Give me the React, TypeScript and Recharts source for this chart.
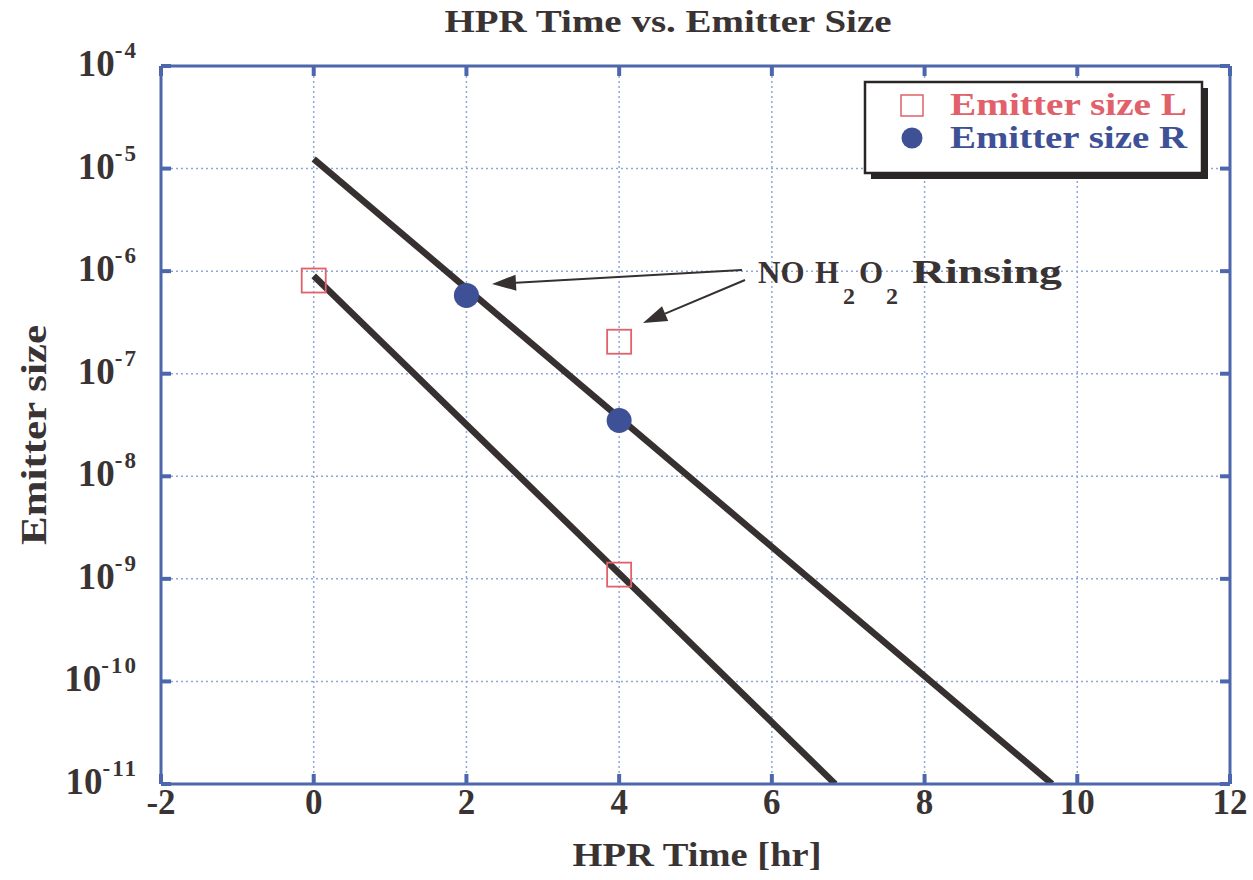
import React from 'react';
import { ComposedChart, Line, Scatter, XAxis, YAxis, CartesianGrid } from 'recharts';

const xTicks = [-2, 0, 2, 4, 6, 8, 10, 12];
const yTicks = [1e-11, 1e-10, 1e-9, 1e-8, 1e-7, 1e-6, 1e-5, 1e-4];

const emitterL = [
  { x: 0, y: 8.1e-7 },
  { x: 4, y: 2.05e-7 },
  { x: 4, y: 1.1e-9 },
];
const emitterR = [
  { x: 2, y: 5.8e-7 },
  { x: 4, y: 3.5e-8 },
];
const fitR = [
  { x: 0, y: 1.24e-5 },
  { x: 9.67, y: 1e-11 },
];
const fitL = [
  { x: 0, y: 9e-7 },
  { x: 6.83, y: 1e-11 },
];

const FONT = 'Liberation Serif, Times New Roman, Times, serif';
const TEXT = '#3a3333';
const AXIS = '#4d67ad';
const GRID = '#8ea6da';
const RED = '#e2606a';
const BLUE = '#3e5196';
const LINE = '#363030';
const TICK_LEN = 10;

const YTick = (props: any) => {
  const { x, y, payload } = props;
  const e = Math.round(Math.log10(payload.value));
  return (
    <text x={x - TICK_LEN - 23} y={y + 10} textAnchor="end" style={{ fontFamily: FONT, fontWeight: 'bold' }} fill={TEXT} fontSize={37}>
      <tspan>10</tspan>
      <tspan dy={-18} fontSize={23} letterSpacing={2}>{`-${Math.abs(e)}`}</tspan>
    </text>
  );
};

const XTick = (props: any) => {
  const { x, y, payload } = props;
  return (
    <text x={x} y={y + TICK_LEN + 30} textAnchor="middle" style={{ fontFamily: FONT, fontWeight: 'bold' }} fill={TEXT} fontSize={35}>
      {payload.value}
    </text>
  );
};

const NoTick = () => <g />;

const SquareShape = (props: any) => {
  const { cx, cy } = props;
  return <rect x={cx - 12} y={cy - 12} width={24} height={24} fill="none" stroke={RED} strokeWidth={1.8} />;
};
const CircleShape = (props: any) => {
  const { cx, cy } = props;
  return <circle cx={cx} cy={cy} r={12.5} fill={BLUE} />;
};

function arrowHead(x0: number, y0: number, tx: number, ty: number, len = 24, half = 8) {
  const dx = tx - x0;
  const dy = ty - y0;
  const d = Math.hypot(dx, dy);
  const ux = dx / d;
  const uy = dy / d;
  const bx = tx - ux * len;
  const by = ty - uy * len;
  const px = -uy * half;
  const py = ux * half;
  return {
    points: `${tx},${ty} ${bx + px},${by + py} ${bx - px},${by - py}`,
    bx,
    by,
  };
}

export default function App() {
  const a1 = arrowHead(742, 270, 492, 284);
  const a2 = arrowHead(745, 280, 643, 323);
  const tickLineStyle = { stroke: AXIS, strokeWidth: 4 };
  const axisLineStyle = { stroke: AXIS, strokeWidth: 3 };
  const txt = { fontFamily: FONT, fontWeight: 'bold' as const };
  return (
    <div style={{ position: 'absolute', left: 0, top: 0, width: 1253, height: 880, background: '#fff' }}>
      <ComposedChart width={1253} height={880} margin={{ top: 65, right: 22, bottom: 0, left: 0 }}>
        <CartesianGrid stroke={GRID} strokeDasharray="2 3" strokeWidth={1.5} />
        <XAxis
          dataKey="x"
          type="number"
          domain={[-2, 12]}
          ticks={xTicks}
          allowDataOverflow
          height={96}
          tickSize={-TICK_LEN}
          tickMargin={0}
          axisLine={axisLineStyle}
          tickLine={tickLineStyle}
          tick={<XTick />}
          interval={0}
        />
        <XAxis
          xAxisId="top"
          orientation="top"
          dataKey="x"
          type="number"
          domain={[-2, 12]}
          ticks={xTicks}
          allowDataOverflow
          height={1}
          tickSize={-TICK_LEN}
          tickMargin={0}
          axisLine={axisLineStyle}
          tickLine={tickLineStyle}
          tick={<NoTick />}
          interval={0}
        />
        <YAxis
          dataKey="y"
          type="number"
          scale="log"
          domain={[1e-11, 1e-4]}
          ticks={yTicks}
          allowDataOverflow
          width={161}
          tickSize={-TICK_LEN}
          tickMargin={0}
          axisLine={axisLineStyle}
          tickLine={tickLineStyle}
          tick={<YTick />}
          interval={0}
        />
        <YAxis
          yAxisId="right"
          orientation="right"
          dataKey="y"
          type="number"
          scale="log"
          domain={[1e-11, 1e-4]}
          ticks={yTicks}
          allowDataOverflow
          width={1}
          tickSize={-TICK_LEN}
          tickMargin={0}
          axisLine={axisLineStyle}
          tickLine={tickLineStyle}
          tick={<NoTick />}
          interval={0}
        />
        <Scatter name="Emitter size L" data={emitterL} dataKey="y" shape={<SquareShape />} isAnimationActive={false} />
        <Scatter name="Emitter size R" data={emitterR} dataKey="y" shape={<CircleShape />} isAnimationActive={false} />
        <Line data={fitR} dataKey="y" stroke={LINE} strokeWidth={6.5} dot={false} activeDot={false} isAnimationActive={false} />
        <Line data={fitL} dataKey="y" stroke={LINE} strokeWidth={6.5} dot={false} activeDot={false} isAnimationActive={false} />
      </ComposedChart>
      <svg
        width={1253}
        height={880}
        style={{ position: 'absolute', left: 0, top: 0, pointerEvents: 'none', ...txt }}
      >
        <text x={668} y={32} textAnchor="middle" fontSize={32} fill={TEXT} style={txt} textLength={447} lengthAdjust="spacingAndGlyphs">
          HPR Time vs. Emitter Size
        </text>
        <text transform="translate(46,435) rotate(-90)" textAnchor="middle" fontSize={36} fill={TEXT} style={txt} textLength={220} lengthAdjust="spacingAndGlyphs">
          Emitter size
        </text>
        <text x={697} y={866} textAnchor="middle" fontSize={34} fill={TEXT} style={txt} textLength={249} lengthAdjust="spacingAndGlyphs">
          HPR Time [hr]
        </text>

        {/* legend */}
        <rect x={871} y={88} width={337} height={91} fill="#2b2626" />
        <rect x={865} y={82} width={337} height={91} fill="#fff" stroke="#2b2626" strokeWidth={2.5} />
        <rect x={901} y={95} width={22} height={21} fill="none" stroke={RED} strokeWidth={1.5} />
        <circle cx={912} cy={138} r={10.5} fill={BLUE} />
        <text x={950} y={115} fontSize={32} fill={RED} style={txt} textLength={237} lengthAdjust="spacingAndGlyphs">
          Emitter size L
        </text>
        <text x={950} y={148} fontSize={32} fill={BLUE} style={txt} textLength={237} lengthAdjust="spacingAndGlyphs">
          Emitter size R
        </text>

        {/* annotation */}
        <line x1={742} y1={270} x2={a1.bx} y2={a1.by} stroke={LINE} strokeWidth={2} />
        <polygon points={a1.points} fill={LINE} />
        <line x1={745} y1={280} x2={a2.bx} y2={a2.by} stroke={LINE} strokeWidth={2} />
        <polygon points={a2.points} fill={LINE} />
        <g fill={TEXT} style={txt}>
          <text x={758} y={283} fontSize={31}>NO</text>
          <text x={815} y={283} fontSize={31}>H</text>
          <text x={843} y={304} fontSize={24}>2</text>
          <text x={859} y={283} fontSize={31}>O</text>
          <text x={886} y={304} fontSize={24}>2</text>
          <text x={912} y={283} fontSize={34} textLength={150} lengthAdjust="spacingAndGlyphs">Rinsing</text>
        </g>
      </svg>
    </div>
  );
}
